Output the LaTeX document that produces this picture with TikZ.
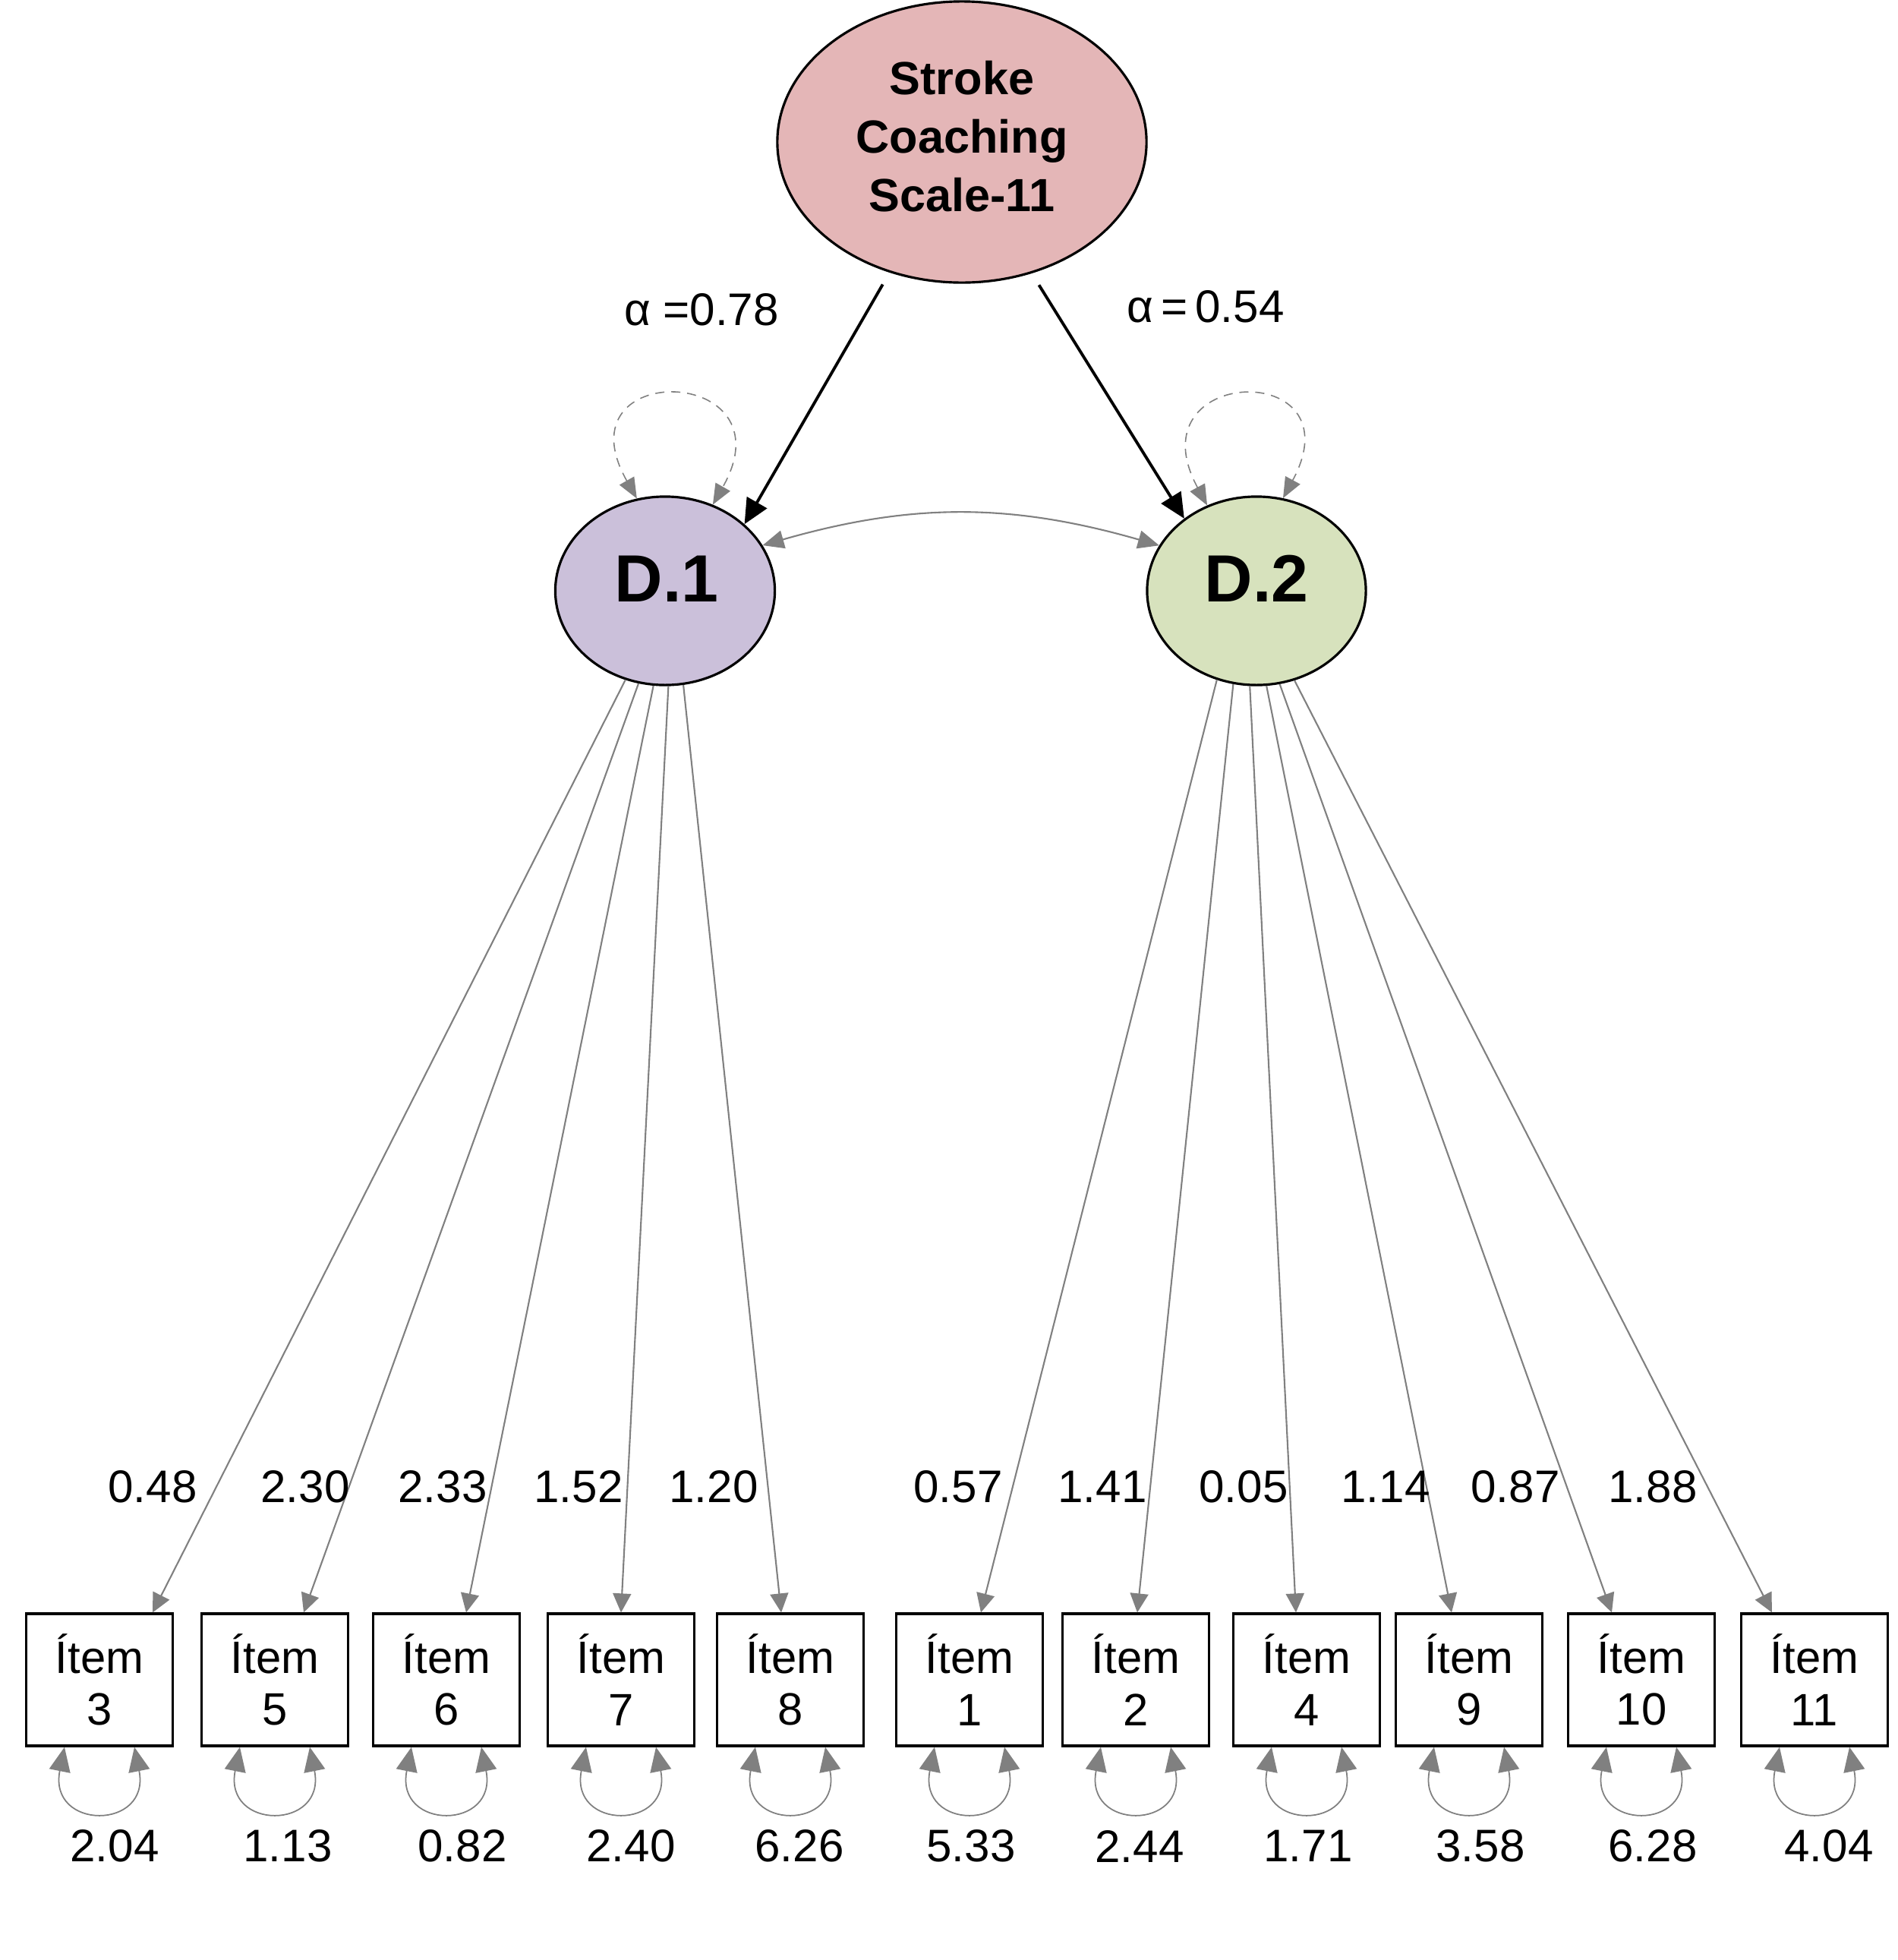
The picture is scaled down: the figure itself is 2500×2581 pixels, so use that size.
\documentclass[tikz,border=0pt]{standalone}
\usepackage{fontspec}
\setmainfont{Liberation Sans}
\usetikzlibrary{arrows.meta,shapes.geometric}
\definecolor{topfill}{HTML}{E4B6B7}
\definecolor{dafill}{HTML}{CBC0DA}
\definecolor{dbfill}{HTML}{D7E2BD}
\definecolor{edgegray}{HTML}{808080}
\begin{document}
\begin{tikzpicture}[x=0.01cm,y=-0.01cm,
  latent/.style={ellipse, draw=black, line width=0.9pt, inner sep=0pt},
  dlabel/.style={inner sep=0pt, font=\bfseries\fontsize{25}{28}\selectfont},
  itembox/.style={rectangle, draw=black, line width=0.9pt, fill=white, minimum width=1.93cm, minimum height=1.74cm, inner sep=0pt, align=center, font=\fontsize{17}{19.4}\selectfont},
  numlabel/.style={inner sep=0pt, font=\fontsize{17.1}{20}\selectfont},
  loadarrow/.style={draw=edgegray, line width=0.6pt, -{Triangle[length=0.25cm,width=0.24cm]}},
  mainarrow/.style={draw=black, line width=1.1pt, -{Triangle[length=0.33cm,width=0.3cm]}, shorten <=0.18cm},
  covarrow/.style={draw=edgegray, line width=0.6pt, {Triangle[length=0.28cm,width=0.24cm]}-{Triangle[length=0.28cm,width=0.24cm]}},
  latloop/.style={draw=edgegray, line width=0.45pt, dash pattern=on 0.12cm off 0.09cm, {Triangle[length=0.27cm,width=0.22cm]}-{Triangle[length=0.27cm,width=0.22cm]}},
  resloop/.style={draw=edgegray, line width=0.5pt, {Triangle[length=0.32cm,width=0.28cm]}-{Triangle[length=0.32cm,width=0.28cm]}}
]
\useasboundingbox (0,0) rectangle (2500,2581);

% latent nodes
\node[latent, fill=topfill, minimum width=4.86cm, minimum height=3.70cm] (top) at (1267,187) {};
\node[inner sep=0pt, align=center, font=\bfseries\fontsize{17.4}{21.9}\selectfont] (topt) at (1267,180) {Stroke\\Coaching\\Scale-11};
\node[latent, fill=dafill, minimum width=2.89cm, minimum height=2.48cm] (d1) at (876,778) {};
\node[latent, fill=dbfill, minimum width=2.88cm, minimum height=2.48cm] (d2) at (1655,778) {};
\node[dlabel] (d1t) at (878,762) {D.1};
\node[dlabel] (d2t) at (1655,762) {D.2};

% alpha labels
\node[numlabel] (alA) at (924,408) {α =0.78};
\node[numlabel] (alB) at (1588,404) {α\,=\,0.54};

% structural arrows
\draw[mainarrow] (top.241) -- (d1.40);
\draw[mainarrow] (top.298) -- (d2.135);

% covariance
\draw[covarrow] (d1.25) to[bend left=16] (d2.155);

% latent variance loops
\draw[latloop] (d1.107) .. controls +(-105,-185) and +(105,-185) .. (d1.61);
\draw[latloop] (d2.120) .. controls +(-100,-185) and +(100,-185) .. (d2.74);

% items
\foreach \n/\x in {3/131,5/362,6/588,7/818,8/1041,1/1277,2/1496,4/1721,9/1935,10/2162,11/2390}{
  \node[itembox] (i\n) at (\x,2212) {Ítem\\\n};
}

% loadings
\draw[loadarrow] (d1.246) -- ([xshift=0.70cm]i3.north);
\draw[loadarrow] (d1.254) -- ([xshift=0.38cm]i5.north);
\draw[loadarrow] (d1.263) -- ([xshift=0.26cm]i6.north);
\draw[loadarrow] (d1.272) -- ([xshift=0.00cm]i7.north);
\draw[loadarrow] (d1.281) -- ([xshift=-0.12cm]i8.north);
\draw[loadarrow] (d2.246) -- ([xshift=0.15cm]i1.north);
\draw[loadarrow] (d2.256) -- ([xshift=0.02cm]i2.north);
\draw[loadarrow] (d2.266) -- ([xshift=-0.14cm]i4.north);
\draw[loadarrow] (d2.276) -- ([xshift=-0.23cm]i9.north);
\draw[loadarrow] (d2.284) -- ([xshift=-0.39cm]i10.north);
\draw[loadarrow] (d2.293) -- ([xshift=-0.56cm]i11.north);

% loading labels
\foreach \nm/\x/\t in {l3/201/0.48,l5/402/2.30,l6/583/2.33,l7/762/1.52,l8/940/1.20,l1/1262/0.57,l2/1452/1.41,l4/1638/0.05,l9/1825/1.14,l10/1996/0.87,l11/2177/1.88}{
  \node[numlabel] (\nm) at (\x,1958) {\t};
}

% residual loops
\foreach \n in {3,5,6,7,8,1,2,4,9,10,11}{
  \draw[resloop] ([xshift=-0.46cm]i\n.south) .. controls +(-22,110) and +(22,110) .. ([xshift=0.46cm]i\n.south);
}

% residual labels
\foreach \nm/\x/\t in {r3/151/2.04,r5/379/1.13,r6/609/0.82,r7/831/2.40,r8/1053/6.26,r1/1279/5.33,r2/1501/2.44,r4/1723/1.71,r9/1950/3.58,r10/2177/6.28,r11/2409/4.04}{
  \node[numlabel] (\nm) at (\x,2431) {\t};
}
\end{tikzpicture}
\end{document}
